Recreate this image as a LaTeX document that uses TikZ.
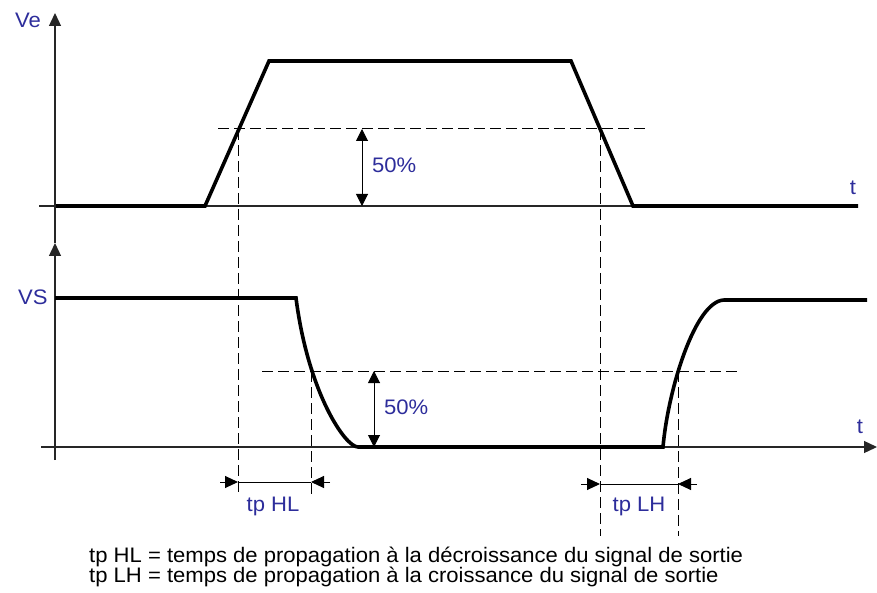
\documentclass[tikz,border=0pt]{standalone}
\usepackage{fontspec}
\setmainfont[FakeStretch=1.05]{Liberation Sans}
\usetikzlibrary{arrows.meta}
\definecolor{lblue}{RGB}{45,45,155}
\begin{document}
\begin{tikzpicture}[x=1pt,y=-1pt,
  axis/.style={line width=1.3pt, black!85},
  sig/.style={line width=3.6pt, line join=miter, line cap=butt},
  dash5/.style={line width=1pt, dash pattern=on 11pt off 5pt},
  thinl/.style={line width=1pt},
  tip/.style={-{Triangle[length=13pt,width=12pt]}},
  tips/.style={{Triangle[length=12pt,width=12pt]}-{Triangle[length=12pt,width=12pt]}},
  lbl/.style={text=lblue, font=\fontsize{21}{21}\selectfont, inner sep=0pt},
  txt/.style={font=\fontsize{21}{21}\selectfont, inner sep=0pt, anchor=base west}]
\useasboundingbox (0,0) rectangle (877,593);
% axes
\coordinate (t0) at (39,206);
\coordinate (t1) at (858,206);
\coordinate (ay0) at (55,243);
\coordinate (ay1) at (55,13);
\coordinate (b0) at (41,447);
\coordinate (b1) at (877,447);
\coordinate (by0) at (55,460);
\draw[axis] (t0) -- (t1);
\draw[axis,tip] (ay0) -- (ay1);
\draw[axis,tip] (b0) -- (b1);
\draw[axis,tip] (by0) -- (ay0);
% input signal
\draw[sig] (56,206) -- (205,206) -- (269,61) -- (571,61) -- (633,206) -- (858,206);
% output signal
\draw[sig] (55,298) -- (296,298) .. controls (308,392) and (345,447) .. (358,447)
  -- (663,447) .. controls (668,390) and (695,301) .. (724,300) -- (867,300);
% dashed guides
\coordinate (h1a) at (218,129); \coordinate (h1b) at (646,129);
\coordinate (h2a) at (262,371); \coordinate (h2b) at (740,371);
\draw[dash5] (h1a) -- (h1b);
\draw[dash5] (238,129) -- (238,496);
\draw[dash5] (600,129) -- (600,536);
\draw[dash5] (h2a) -- (h2b);
\draw[dash5] (311,371) -- (311,496);
\draw[dash5] (678,371) -- (678,536);
% 50% arrows
\draw[thinl,tips] (362,129) -- (362,206);
\draw[thinl,tips] (374,371) -- (374,447);
% tp HL dimension
\draw[thinl,tip] (220,482) -- (238,482);
\draw[thinl] (238,482) -- (311,482);
\draw[thinl,tip] (330,482) -- (311,482);
% tp LH dimension
\draw[thinl,tip] (581,484) -- (600,484);
\draw[thinl] (600,484) -- (678,484);
\draw[thinl,tip] (697,484) -- (678,484);
% labels
\node[lbl,anchor=base west] (ve) at (15,28) {Ve};
\node[lbl,anchor=base west] (vs) at (18,305) {VS};
\node[lbl,anchor=base] (tt) at (853,195) {t};
\node[lbl,anchor=base] (tb) at (860,433) {t};
\node[lbl,anchor=base west] (p1) at (372,173) {50\%};
\node[lbl,anchor=base west] (p2) at (384,414) {50\%};
\node[lbl,anchor=base] (hl) at (273,511) {tp HL};
\node[lbl,anchor=base] (lh) at (639,511) {tp LH};
\node[txt] (l1) at (89,562) {tp HL = temps de propagation à la décroissance du signal de sortie};
\node[txt] (l2) at (89,582) {tp LH = temps de propagation à la croissance du signal de sortie};
\end{tikzpicture}
\end{document}
